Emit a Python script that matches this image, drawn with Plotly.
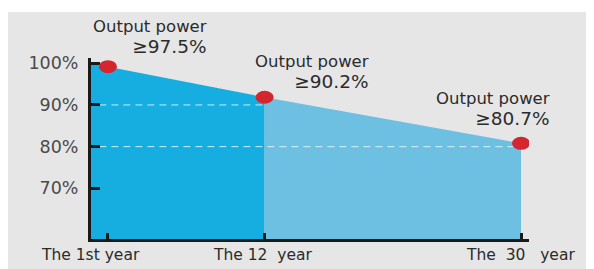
import plotly.graph_objects as go

# ---- data ----
years = [1, 12, 30]
output_pct = [99.2, 91.85, 80.8]
labels_power = ["≥97.5%", "≥90.2%", "≥80.7%"]
x_labels = ["The 1st year", "The 12\u00a0\u00a0year", "The\u00a0\u00a030\u00a0\u00a0\u00a0year"]
fill_dark_years = [-0.19, 1, 12]
fill_dark_vals = [99.9, 99.2, 91.85]
fill_light_years = [12, 30]
fill_light_vals = [91.85, 80.8]
grid_vals = [90, 80]
grid_start = [0.4, 0.4]
grid_end = [12, 30]
y_ticks = [70, 80, 90, 100]
y_ticktext = ["70%", "80%", "90%", "100%"]

DARK = "#16aee0"
LIGHT = "#6ec0e3"
RED = "#d4262e"
BG = "#e6e6e6"
FONT = "DejaVu Sans"

fig = go.Figure()
fig.add_trace(go.Scatter(x=fill_dark_years, y=fill_dark_vals, fill="tozeroy",
                         fillcolor=DARK, mode="lines", line=dict(width=0),
                         hoverinfo="skip"))
fig.add_trace(go.Scatter(x=fill_light_years, y=fill_light_vals, fill="tozeroy",
                         fillcolor=LIGHT, mode="lines", line=dict(width=0),
                         hoverinfo="skip"))
for v, s, e in zip(grid_vals, grid_start, grid_end):
    fig.add_trace(go.Scatter(x=[s, e], y=[v, v], mode="lines",
                             line=dict(color="rgba(235,248,253,0.85)", width=1, dash="7px,5px"),
                             hoverinfo="skip"))

shapes = [dict(type="rect", xref="paper", yref="paper", x0=-0.1895, x1=1.2,
               y0=-0.25, y1=1.254, fillcolor=BG, line=dict(width=0), layer="below")]
for yr, v in zip(years, output_pct):
    shapes.append(dict(type="circle", xref="x", yref="y",
                       xsizemode="pixel", ysizemode="pixel",
                       xanchor=yr, yanchor=v, x0=-9, x1=9, y0=-6.5, y1=6.5,
                       fillcolor=RED, line=dict(width=0), layer="above"))

annotations = []
shifts = [(101, 30), (106, 25), (31, 34)]
for yr, v, lab, (dx, dy) in zip(years, output_pct, labels_power, shifts):
    annotations.append(dict(x=yr, y=v, xref="x", yref="y", showarrow=False,
                            text="Output power<br><span style='font-size:18.5px'>" + lab + "</span>",
                            align="right",
                            xanchor="right", yanchor="middle", xshift=dx, yshift=dy,
                            font=dict(family=FONT, size=16.5, color="#2b2b2b")))
label_xshift = [-17, -2, -1]
for yr, lab, dx in zip(years, x_labels, label_xshift):
    annotations.append(dict(x=yr, y=0, xref="x", yref="paper", showarrow=False,
                            text=lab, xanchor="center", yanchor="middle",
                            yshift=-16, xshift=dx,
                            font=dict(family=FONT, size=15.5, color="#2b2b2b")))

# page has an 8px body margin, so the figure is drawn 8px smaller
fig.update_layout(
    width=586, height=261,
    margin=dict(l=83, r=65, t=50, b=30),
    paper_bgcolor="white", plot_bgcolor="rgba(0,0,0,0)",
    showlegend=False,
    shapes=shapes, annotations=annotations,
    xaxis=dict(range=[-0.19, 30.56], showgrid=False, zeroline=False,
               showline=True, linecolor="#1a1a1a", linewidth=3,
               tickmode="array", tickvals=years, ticktext=["", "", ""],
               ticks="inside", ticklen=6, tickwidth=3, tickcolor="#1a1a1a"),
    yaxis=dict(range=[57.83, 101.27], showgrid=False, zeroline=False,
               showline=True, linecolor="#1a1a1a", linewidth=3,
               tickmode="array", tickvals=y_ticks, ticktext=y_ticktext,
               ticks="inside", ticklen=9, tickwidth=3, tickcolor="#1a1a1a",
               ticklabelstandoff=6,
               tickfont=dict(family=FONT, size=17.5, color="#4a4a4a")),
)
fig.write_html("out.html")
